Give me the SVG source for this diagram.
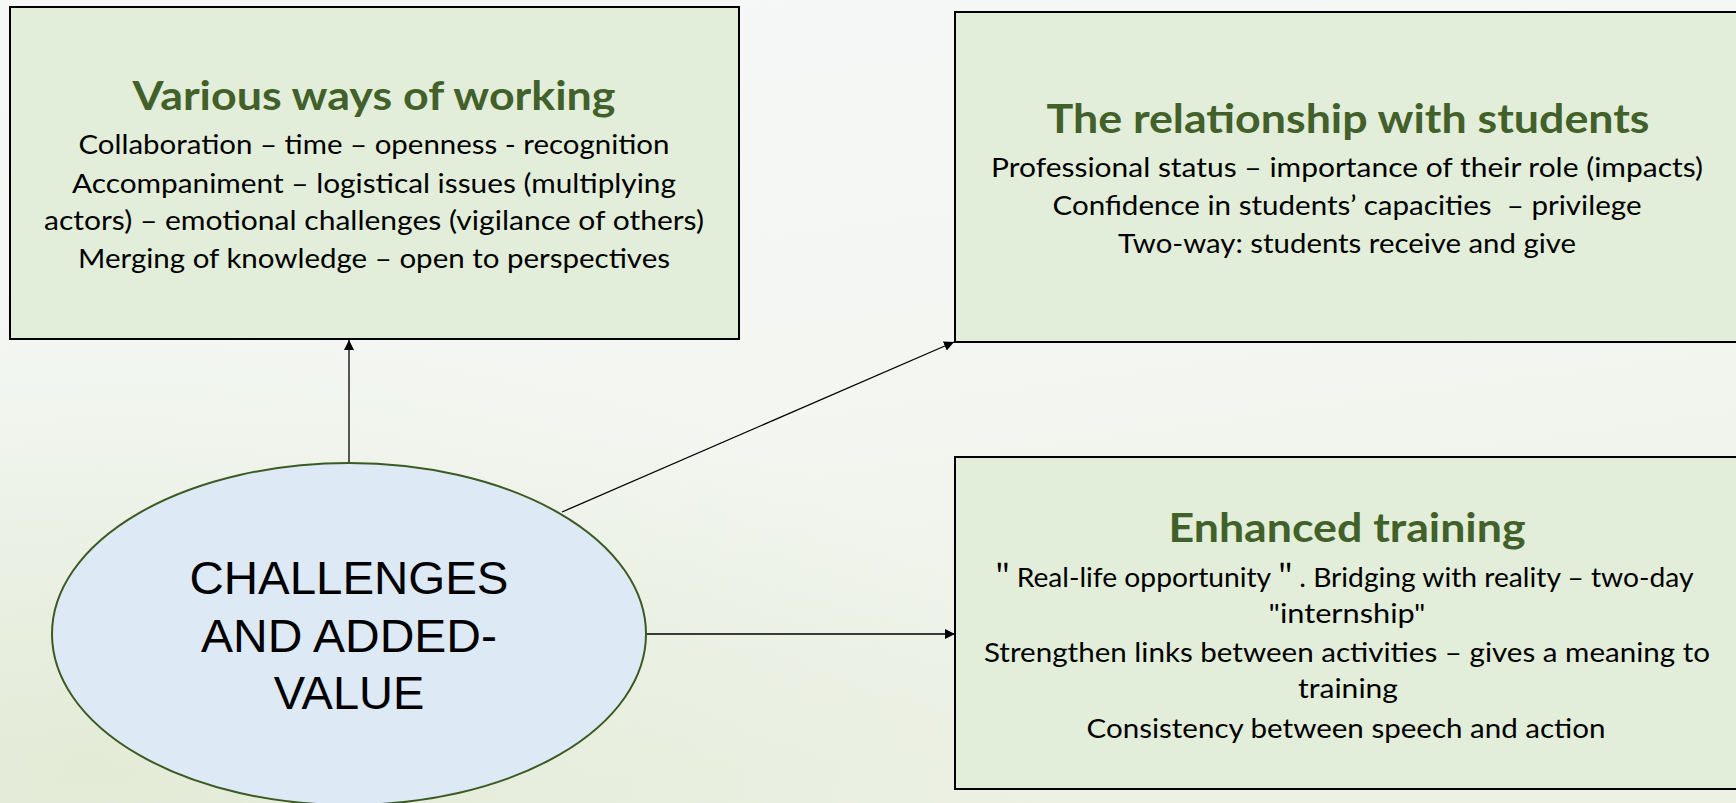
<svg xmlns="http://www.w3.org/2000/svg" width="1736" height="803" viewBox="0 0 1736 803">
  <defs>
    <linearGradient id="bg" x1="0" y1="0" x2="0.3" y2="1">
      <stop offset="0" stop-color="#f5f8f7"/>
      <stop offset="0.6" stop-color="#f3f6f1"/>
      <stop offset="1" stop-color="#ecf1e4"/>
    </linearGradient>
    <radialGradient id="haze" cx="0.05" cy="0.95" r="0.55">
      <stop offset="0" stop-color="#dfe8d0" stop-opacity="0.7"/>
      <stop offset="1" stop-color="#dfe8d0" stop-opacity="0"/>
    </radialGradient>
    <marker id="arrow" viewBox="0 0 10 10" refX="10" refY="5" markerWidth="10" markerHeight="10" markerUnits="userSpaceOnUse" orient="auto">
      <path d="M0,0 L10,5 L0,10 z" fill="#000"/>
    </marker>
    <style>
      .box { fill: #e2eed9; stroke: #000; stroke-width: 2; }
      .hub { fill: #dde9f5; stroke: #3b5a22; stroke-width: 2; }
      .title { font-family: Lato, "Open Sans", sans-serif; font-weight: bold; font-size: 41px; fill: #42612a; text-anchor: middle; }
      .body { font-family: Lato, "Open Sans", "Noto Sans CJK SC", sans-serif; font-size: 27.5px; fill: #000; text-anchor: middle; }
      .hubtext { font-family: "Liberation Sans", Arial, sans-serif; font-size: 47px; fill: #000; text-anchor: middle; }
      .link { stroke: #000; stroke-width: 1.3; fill: none; marker-end: url(#arrow); }
    </style>
  </defs>

  <rect width="1736" height="803" fill="url(#bg)"/>
  <rect width="1736" height="803" fill="url(#haze)"/>

  <g id="connectors">
    <line class="link" x1="349" y1="463" x2="349" y2="340"/>
    <line class="link" x1="562" y1="512" x2="954" y2="342"/>
    <line class="link" x1="646" y1="634" x2="955" y2="634"/>
  </g>

  <g id="various-ways">
    <rect class="box" x="10" y="7" width="729" height="332"/>
    <text class="title" x="374" y="110" textLength="483" lengthAdjust="spacingAndGlyphs">Various ways of working</text>
    <text class="body" x="374" y="154" textLength="591" lengthAdjust="spacingAndGlyphs">Collaboration – time – openness - recognition</text>
    <text class="body" x="374" y="193" textLength="604" lengthAdjust="spacingAndGlyphs">Accompaniment – logistical issues (multiplying</text>
    <text class="body" x="374" y="230" textLength="660" lengthAdjust="spacingAndGlyphs">actors) – emotional challenges (vigilance of others)</text>
    <text class="body" x="374" y="268" textLength="592" lengthAdjust="spacingAndGlyphs">Merging of knowledge – open to perspectives</text>
  </g>

  <g id="relationship">
    <rect class="box" x="955" y="12" width="790" height="330"/>
    <text class="title" x="1348" y="133" textLength="603" lengthAdjust="spacingAndGlyphs">The relationship with students</text>
    <text class="body" x="1347" y="177" textLength="712" lengthAdjust="spacingAndGlyphs">Professional status – importance of their role (impacts)</text>
    <text class="body" x="1347" y="215" textLength="589" lengthAdjust="spacingAndGlyphs" xml:space="preserve">Confidence in students’ capacities  – privilege</text>
    <text class="body" x="1347" y="253" textLength="458" lengthAdjust="spacingAndGlyphs">Two-way: students receive and give</text>
  </g>

  <g id="enhanced-training">
    <rect class="box" x="955" y="457" width="790" height="332"/>
    <text class="title" x="1347" y="542" textLength="357" lengthAdjust="spacingAndGlyphs">Enhanced training</text>
    <text class="body" x="1341" y="587" textLength="705" lengthAdjust="spacingAndGlyphs">＂Real-life opportunity＂. Bridging with reality – two-day</text>
    <text class="body" x="1347" y="623" textLength="157" lengthAdjust="spacingAndGlyphs">"internship"</text>
    <text class="body" x="1347" y="662" textLength="726" lengthAdjust="spacingAndGlyphs">Strengthen links between activities – gives a meaning to</text>
    <text class="body" x="1348" y="698" textLength="100" lengthAdjust="spacingAndGlyphs">training</text>
    <text class="body" x="1346" y="738" textLength="519" lengthAdjust="spacingAndGlyphs">Consistency between speech and action</text>
  </g>

  <g id="challenges">
    <ellipse class="hub" cx="349" cy="634" rx="297" ry="171"/>
    <text class="hubtext" x="349" y="594" textLength="319" lengthAdjust="spacingAndGlyphs">CHALLENGES</text>
    <text class="hubtext" x="349" y="652" textLength="296" lengthAdjust="spacingAndGlyphs">AND ADDED-</text>
    <text class="hubtext" x="349" y="709">VALUE</text>
  </g>
</svg>
